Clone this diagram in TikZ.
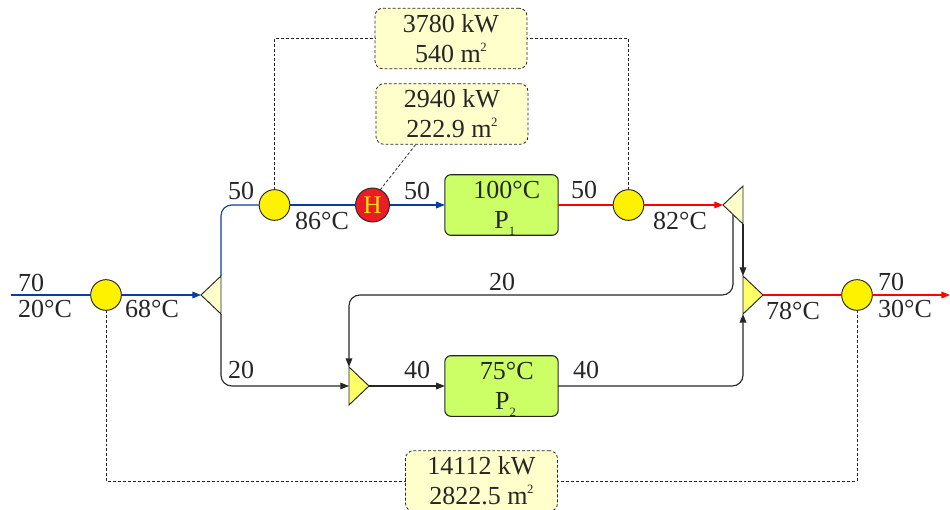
\documentclass[tikz,border=0pt]{standalone}
\usepackage{fontspec}
\setmainfont{Liberation Serif}
\usetikzlibrary{shapes.geometric, arrows.meta}
\definecolor{hotred}{RGB}{255, 0, 0}
\definecolor{coldblue}{RGB}{10, 60, 165}
\definecolor{inkgray}{RGB}{38, 38, 38}
\definecolor{paleyellow}{RGB}{255, 255, 204}
\definecolor{midyellow}{RGB}{255, 255, 102}
\definecolor{plantgreen}{RGB}{204, 255, 102}
\definecolor{heatred}{RGB}{237, 28, 36}
\definecolor{letteryellow}{RGB}{255, 230, 0}
\newcommand{\supidx}[1]{\kern-0.3pt\raisebox{0.95ex}{\fontsize{9.5}{9.5}\selectfont #1}}
\newcommand{\subidx}[1]{\raisebox{-0.55ex}{\fontsize{9.5}{9.5}\selectfont #1}}

\begin{document}
\begin{tikzpicture}[
  x=0.75pt, y=-0.75pt,
  every node/.style={text=inkgray, font=\fontsize{19.5}{22.5}\selectfont},
  hx/.style={draw=inkgray, fill=yellow, circle, minimum size=23pt, inner sep=0pt, outer sep=0pt, line width=0.7pt},
  heater/.style={draw=inkgray, fill=heatred, circle, minimum size=25.5pt, inner sep=0pt, outer sep=0pt, line width=0.7pt, text=letteryellow},
  plant/.style={draw=inkgray, fill=plantgreen, rounded corners=4.5pt, minimum width=85pt, minimum height=45pt, align=center, inner sep=0pt, outer sep=0pt, line width=0.8pt},
  duty/.style={draw=inkgray, fill=paleyellow, dashed, dash pattern=on 2.2pt off 1.5pt, rounded corners=6pt, minimum width=114pt, minimum height=45.5pt, align=center, inner sep=0pt, outer sep=0pt, line width=0.6pt},
  tee/.style={draw=inkgray, isosceles triangle, isosceles triangle apex angle=87, isosceles triangle stretches, minimum width=28.5pt, minimum height=15pt, inner sep=0pt, outer sep=0pt, line width=0.7pt},
  split/.style={tee, fill=paleyellow, shape border rotate=180, anchor=apex},
  mixer/.style={tee, fill=midyellow, anchor=apex},
  cold/.style={draw=coldblue, line width=0.85pt},
  hot/.style={draw=hotred, line width=0.85pt},
  flow/.style={draw=inkgray, line width=0.85pt},
  tip/.style={-{Stealth[inset=0pt, length=6.5pt, width=5pt]}},
  link/.style={draw=inkgray, dashed, dash pattern=on 2.2pt off 1.5pt, line width=0.6pt}
]
  \useasboundingbox (0,0) rectangle (950,510);

  \coordinate (inlet) at (11,295);
  \coordinate (outlet) at (950,295);
  \coordinate (bypass) at (349,295);

  \node[hx] (hxa) at (106,295) {};
  \node[hx] (hxb) at (274.5,205) {};
  \node[hx] (hxc) at (628.5,205) {};
  \node[hx] (hxd) at (857,295) {};
  \node[heater] (htr) at (372.5,205) {\fontsize{19}{20}\selectfont H};

  \node[split] (spla) at (201,295) {};
  \node[split] (splb) at (723,205) {};
  \node[mixer] (mixa) at (369,386) {};
  \node[mixer] (mixb) at (763,295) {};

  \node[plant] (pone) at (501.5,205) {\rule{0pt}{18pt}\hspace{8pt}100°C\\\hspace{5pt}P\subidx{1}};
  \node[plant] (ptwo) at (501.5,386) {\rule{0pt}{18pt}\hspace{8pt}75°C\\\hspace{6pt}P\subidx{2}};

  \node[duty] (dutya) at (451,38.5) {3780 kW\\540 m\supidx{2}};
  \node[duty] (dutyb) at (452,114) {2940 kW\\222.9 m\supidx{2}};
  \node[duty] (dutyc) at (481.5,481) {14112 kW\\2822.5 m\supidx{2}};

  \draw[cold] (inlet) -- (hxa);
  \draw[cold, tip] (hxa) -- (spla.apex);
  \draw[cold, rounded corners=8pt] (spla.right corner) |- (hxb);
  \draw[cold] (hxb) -- (htr);
  \draw[cold, tip] (htr) -- (pone);
  \draw[hot] (pone) -- (hxc);
  \draw[hot, tip] (hxc) -- (splb.apex);
  \draw[hot] (mixb.apex) -- (hxd);
  \draw[hot, tip] (hxd) -- (outlet);

  \draw[flow, tip, rounded corners=8pt] (spla.left corner) |- (mixa.lower side);
  \draw[flow, tip, rounded corners=8pt] (splb.left side) |- (bypass) -- (mixa.left corner);
  \draw[flow, tip] (splb.left corner) -- (mixb.left corner);
  \draw[flow, tip] (mixa.apex) -- (ptwo);
  \draw[flow, tip, rounded corners=8pt] (ptwo) -| (mixb.right corner);

  \draw[link] (hxb) |- (dutya);
  \draw[link] (hxc) |- (dutya);
  \draw[link] (htr.63) -- (dutyb.220);
  \draw[link] (hxa) |- (dutyc);
  \draw[link] (hxd) |- (dutyc);

  \node (fa) at (31,283) {70};
  \node (ta) at (45,309) {20°C};
  \node (tb) at (152,309) {68°C};
  \node (fb) at (241,191) {50};
  \node (tc) at (322,221) {86°C};
  \node (fc) at (417,191) {50};
  \node (fd) at (584,190) {50};
  \node (td) at (680,221) {82°C};
  \node (fe) at (502,282) {20};
  \node (ff) at (241,370) {20};
  \node (fg) at (417,370) {40};
  \node (fh) at (586,370) {40};
  \node (te) at (793,311) {78°C};
  \node (fi) at (891,282) {70};
  \node (tf) at (905,309) {30°C};
\end{tikzpicture}
\end{document}
